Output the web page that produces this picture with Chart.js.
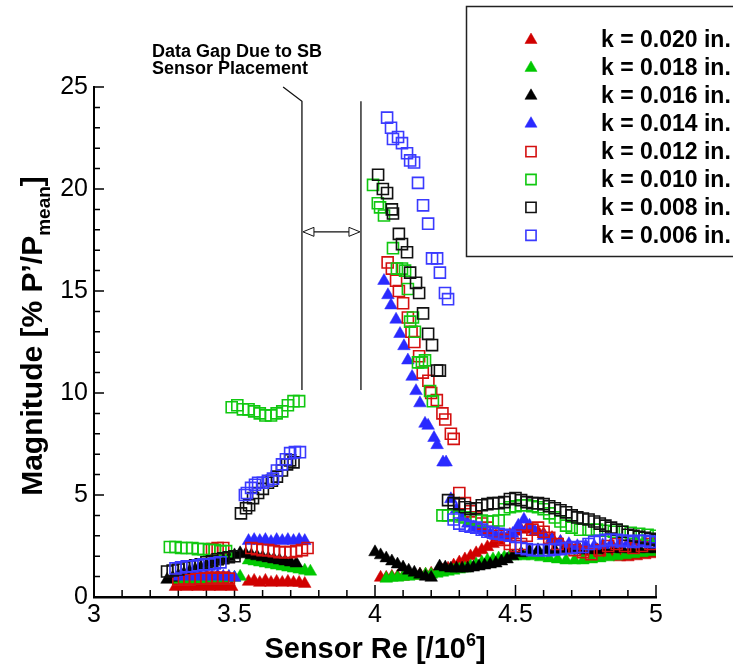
<!DOCTYPE html>
<html>
<head>
<meta charset="utf-8">
<script src="https://cdn.jsdelivr.net/npm/chart.js@4.4.1/dist/chart.umd.min.js"></script>
<style>
  html, body { margin: 0; padding: 0; background: #fff; }
  #wrap { width: 733px; height: 666px; }
</style>
</head>
<body>
<div id="wrap"><canvas id="chart" width="733" height="666"></canvas></div>
<script>
// Sensor Re [/10^6] vs magnitude [% P'/Pmean], one pair of arrays per roughness height k
const reK020 = [3.29,3.31,3.33,3.35,3.37,3.39,3.41,3.43,3.45,3.47,3.49,
    3.55,3.57,3.59,3.61,3.63,3.65,3.67,3.69,3.71,3.73,3.75,
    4.02,4.04,4.06,4.08,4.10,4.12,4.14,4.16,4.18,4.20,4.22,4.24,4.26,4.28,4.30,4.32,4.34,4.36,4.38,4.40,
    4.42,4.44,4.46,4.48,4.50,4.52,4.54,4.56,4.58,4.60,4.63,4.66,4.69,4.72,4.75,4.78,4.81,4.84,4.87,4.90,4.93,4.96,4.99];
const magK020 = [0.5,0.55,0.5,0.55,0.5,0.55,0.5,0.55,0.5,0.55,0.5,
    0.75,0.8,0.7,0.8,0.7,0.75,0.7,0.75,0.7,0.7,0.65,
    0.95,0.95,1.0,1.0,1.0,1.05,1.05,1.1,1.1,1.15,1.2,1.3,1.4,1.55,1.7,1.85,2.0,2.15,2.3,2.45,
    2.6,2.75,2.9,3.05,3.2,3.3,3.35,3.3,3.2,3.1,2.9,2.7,2.5,2.3,2.2,2.1,2.0,2.0,1.95,1.95,2.0,2.05,2.1];

const reK018 = [3.30,3.32,3.34,3.36,3.38,3.40,3.42,3.44,3.46,3.48,3.50,3.52,
    3.55,3.57,3.59,3.61,3.63,3.65,3.67,3.69,3.71,3.73,3.75,3.77,
    4.04,4.06,4.08,4.10,4.12,4.14,4.16,4.18,4.20,4.22,4.24,4.26,4.28,4.30,4.32,4.34,4.36,4.38,4.40,4.42,4.44,4.46,4.48,4.50,
    4.53,4.56,4.59,4.62,4.65,4.68,4.71,4.74,4.77,4.80,4.83,4.86,4.89,4.92,4.95,4.98];
const magK018 = [0.85,0.9,0.85,0.9,0.85,0.9,0.85,0.9,0.9,0.95,0.95,1.0,
    1.8,1.75,1.7,1.65,1.6,1.55,1.5,1.45,1.4,1.35,1.3,1.25,
    0.9,0.95,0.95,1.0,1.0,1.05,1.05,1.1,1.1,1.15,1.2,1.25,1.3,1.35,1.4,1.5,1.6,1.7,1.8,1.85,1.9,1.95,2.0,2.0,
    2.0,2.0,1.95,1.9,1.85,1.8,1.8,1.8,1.85,1.9,1.95,2.0,2.05,2.1,2.15,2.2];

const reK016 = [3.26,3.28,3.30,3.32,3.34,3.36,3.38,3.40,3.42,3.44,3.46,3.48,3.50,
    3.52,3.54,3.56,3.58,3.60,3.62,3.64,3.66,3.68,3.70,3.72,
    4.00,4.02,4.04,4.06,4.08,4.10,4.12,4.14,4.16,4.18,4.20,
    4.23,4.25,4.27,4.29,4.31,4.33,4.35,4.37,4.39,4.41,4.43,4.45,4.47,
    4.49,4.52,4.55,4.58,4.61,4.64,4.67,4.70,4.73,4.76,4.79,4.82,4.85,4.88,4.91,4.94,4.97,5.00];
const magK016 = [0.85,0.95,1.05,1.15,1.25,1.35,1.45,1.55,1.65,1.75,1.85,1.95,2.05,
    2.15,2.1,2.05,2.0,1.95,1.9,1.85,1.8,1.75,1.7,1.65,
    2.2,2.05,1.9,1.75,1.6,1.45,1.3,1.2,1.1,1.0,0.95,
    1.5,1.45,1.4,1.4,1.4,1.4,1.45,1.5,1.55,1.6,1.65,1.75,1.85,
    2.0,2.15,2.25,2.3,2.3,2.3,2.3,2.3,2.3,2.3,2.3,2.35,2.35,2.35,2.35,2.35,2.35,2.35];

const reK014 = [3.30,3.32,3.34,3.36,3.38,3.40,3.42,3.44,3.46,3.48,3.50,
    3.55,3.57,3.59,3.61,3.63,3.65,3.67,3.69,3.71,3.73,3.75,
    4.032,4.046,4.057,4.075,4.089,4.103,4.117,4.132,4.146,4.160,4.178,4.189,4.210,4.221,4.242,4.253,
    4.27,4.29,4.31,4.33,4.35,4.37,4.39,4.41,4.43,4.45,4.47,4.49,4.51,4.53,4.55,4.57,
    4.60,4.63,4.66,4.69,4.72,4.75,4.78,4.81,4.84,4.87,4.90,4.93,4.96,4.99];
const magK014 = [1.0,1.05,1.0,1.05,1.0,1.05,1.0,1.05,1.0,1.0,0.95,
    2.75,2.8,2.75,2.8,2.7,2.8,2.75,2.8,2.75,2.8,2.75,
    15.5,14.8,14.3,13.6,12.9,12.3,11.6,10.8,10.1,9.5,8.5,8.4,7.8,7.45,6.6,6.6,
    4.8,4.3,3.9,3.6,3.4,3.3,3.2,3.1,3.0,2.95,2.9,3.1,3.5,3.8,3.5,3.2,
    3.0,2.8,2.7,2.6,2.5,2.5,2.5,2.55,2.6,2.6,2.65,2.7,2.7,2.75];

const reK012 = [3.30,3.32,3.34,3.36,3.38,3.40,3.42,3.44,3.46,3.48,3.42,3.44,3.46,
    3.56,3.58,3.60,3.62,3.64,3.66,3.68,3.70,3.72,3.74,3.76,
    4.045,4.06,4.075,4.085,4.10,4.117,4.13,4.14,4.157,4.17,4.19,4.20,4.22,4.24,4.25,4.27,4.28,
    4.30,4.32,4.34,4.36,4.38,4.40,4.42,4.44,4.46,4.48,4.50,4.52,4.54,4.56,4.58,4.60,4.62,
    4.65,4.68,4.71,4.74,4.77,4.80,4.83,4.86,4.89,4.92,4.95,4.98];
const magK012 = [0.85,0.9,0.85,0.9,0.9,0.9,0.95,0.9,0.95,0.9,2.35,2.4,2.4,
    2.4,2.35,2.3,2.3,2.25,2.2,2.2,2.2,2.25,2.3,2.4,
    16.4,16.1,15.5,15.0,14.4,13.7,13.0,12.5,11.8,11.0,10.6,10.0,9.65,9.0,8.7,8.0,7.75,
    5.1,4.6,4.2,3.9,3.6,3.4,3.2,3.0,2.8,2.6,2.5,2.6,3.0,3.3,3.4,3.2,2.9,
    2.6,2.4,2.3,2.2,2.1,2.3,2.5,2.6,2.5,2.4,2.5,2.6];

const reK010 = [3.27,3.29,3.31,3.33,3.35,3.37,3.39,3.41,3.43,3.45,3.47,
    3.49,3.51,3.53,3.55,3.57,3.59,3.61,3.63,3.65,3.67,3.69,3.71,3.73,
    3.993,4.01,4.018,4.032,4.064,4.078,4.096,4.107,4.117,4.125,4.135,4.142,4.153,4.167,4.178,4.196,4.206,
    4.24,4.26,4.28,4.30,4.32,4.34,4.36,4.38,4.40,4.42,4.44,4.46,4.48,4.50,4.52,4.54,4.56,4.58,4.60,4.62,4.64,4.66,4.68,4.70,
    4.73,4.76,4.79,4.82,4.85,4.88,4.91,4.94,4.97,5.00];
const magK010 = [2.45,2.45,2.4,2.4,2.4,2.35,2.35,2.3,2.3,2.25,2.25,
    9.3,9.4,9.2,9.2,9.1,9.0,8.9,8.9,9.0,9.1,9.4,9.6,9.6,
    20.2,19.3,19.1,18.7,17.1,16.1,16.1,16.0,15.1,13.5,13.7,13.0,11.5,11.5,11.6,10.1,9.6,
    4.0,4.0,4.05,3.95,3.9,3.85,3.8,3.75,3.7,3.7,3.75,4.3,4.4,4.45,4.5,4.5,4.45,4.4,4.3,4.1,3.9,3.7,3.5,3.4,
    3.3,3.3,3.3,3.25,3.2,3.2,3.15,3.1,3.05,3.0];

const reK008 = [3.26,3.28,3.30,3.32,3.34,3.36,3.38,3.40,3.42,3.44,3.46,3.48,3.50,
    3.523,3.541,3.552,3.566,3.584,3.601,3.619,3.633,3.651,3.669,3.687,3.698,3.71,
    4.011,4.028,4.043,4.06,4.064,4.085,4.096,4.114,4.125,4.146,4.157,4.171,4.189,4.203,4.221,4.231,
    4.26,4.28,4.30,4.32,4.34,4.36,4.38,4.40,4.42,4.44,4.46,4.48,4.50,4.52,4.54,4.56,4.58,4.60,4.62,
    4.64,4.66,4.68,4.70,4.72,4.74,4.76,4.78,4.80,4.82,4.84,4.86,4.88,4.90,4.92,4.94,4.96,4.98,5.00];
const magK008 = [1.25,1.3,1.35,1.45,1.5,1.55,1.6,1.7,1.75,1.85,1.9,1.95,2.0,
    4.1,4.35,4.5,4.85,5.1,5.3,5.6,5.7,5.9,6.2,6.5,6.7,6.6,
    20.7,20.0,19.8,19.0,18.8,17.8,17.3,16.9,15.9,15.4,14.9,13.9,12.9,12.35,11.1,11.1,
    4.75,4.6,4.55,4.4,4.3,4.35,4.5,4.55,4.6,4.6,4.65,4.8,4.85,4.75,4.65,4.6,4.6,4.55,4.45,
    4.35,4.25,4.15,4.0,3.9,3.85,3.8,3.7,3.6,3.5,3.4,3.3,3.2,3.05,3.0,2.95,2.9,2.85,2.8];

const reK006 = [3.29,3.31,3.33,3.35,3.37,3.39,3.41,3.43,3.45,
    3.537,3.544,3.559,3.573,3.584,3.601,3.619,3.637,3.651,3.669,3.683,3.698,3.715,3.733,
    4.043,4.057,4.064,4.082,4.096,4.114,4.125,4.139,4.153,4.171,4.189,4.203,4.221,4.231,4.249,4.26,
    4.28,4.30,4.32,4.34,4.36,4.38,4.40,4.42,4.44,4.46,4.48,4.50,4.52,4.54,4.56,4.58,4.60,4.62,
    4.64,4.66,4.68,4.70,4.72,4.74,4.76,4.78,4.80,4.82,4.84,4.86,4.88,4.90,4.92,4.94,4.96,4.98,5.00];
const magK006 = [1.4,1.45,1.5,1.5,1.55,1.6,1.6,1.65,1.7,
    5.0,5.1,5.35,5.5,5.6,5.6,5.7,5.8,6.2,6.5,6.75,7.05,7.1,7.1,
    23.5,23.0,22.45,22.55,22.25,21.75,21.4,21.3,20.3,19.2,18.3,16.6,16.6,15.9,14.9,14.6,
    3.8,3.6,3.5,3.45,3.4,3.3,3.2,3.15,3.1,3.05,3.0,2.95,2.4,2.35,2.3,2.3,2.3,2.3,
    2.35,2.35,2.4,2.4,2.45,2.45,2.6,2.7,2.75,2.8,2.8,2.8,2.75,2.75,2.7,2.75,2.75,2.7,2.7];

const seriesLabels = ['k = 0.020 in.', 'k = 0.018 in.', 'k = 0.016 in.', 'k = 0.014 in.',
    'k = 0.012 in.', 'k = 0.010 in.', 'k = 0.008 in.', 'k = 0.006 in.'];
const reSeries = [reK020, reK018, reK016, reK014, reK012, reK010, reK008, reK006];
const magSeries = [magK020, magK018, magK016, magK014, magK012, magK010, magK008, magK006];
const seriesColors = ['#d00000', '#00c800', '#000000', '#2a2aff', '#d41010', '#10c810', '#111111', '#3a3aff'];
const seriesFilled = [true, true, true, true, false, false, false, false];

const xTickValues = [3, 3.5, 4, 4.5, 5];
const yTickValues = [0, 5, 10, 15, 20, 25];

// region without sensor data (annotation)
const gapLeft = 3.74;
const gapRight = 3.95;

const FONT = '"Liberation Sans", Arial, Helvetica, sans-serif';

const datasets = seriesLabels.map((label, i) => ({
    label,
    data: reSeries[i].map((x, j) => ({ x, y: magSeries[i][j] })),
    showLine: false,
    pointStyle: seriesFilled[i] ? 'triangle' : 'rect',
    pointRadius: seriesFilled[i] ? 7.3 : 7.8,
    pointHoverRadius: seriesFilled[i] ? 7.3 : 7.8,
    backgroundColor: seriesFilled[i] ? seriesColors[i] : 'rgba(0,0,0,0)',
    borderColor: seriesColors[i],
    borderWidth: seriesFilled[i] ? 0.5 : 1.6,
    order: 8 - i
}));

// inward minor/major ticks like the original plot
const axisTicks = {
    id: 'axisTicks',
    beforeDatasetsDraw(chart) {
        const { ctx, chartArea: a, scales: { x, y } } = chart;
        ctx.save();
        ctx.strokeStyle = '#000';
        ctx.lineWidth = 1.5;
        ctx.beginPath();
        for (let i = 0; i <= 20; i++) {
            const px = x.getPixelForValue(3 + i * 0.1);
            const len = i % 5 === 0 ? 12 : 7;
            ctx.moveTo(px, a.bottom);
            ctx.lineTo(px, a.bottom - len);
        }
        for (let v = 0; v <= 25; v++) {
            const py = y.getPixelForValue(v);
            const len = v % 5 === 0 ? 10 : 6;
            ctx.moveTo(a.left, py);
            ctx.lineTo(a.left + len, py);
        }
        ctx.stroke();
        ctx.restore();
    }
};

function arrowHead(ctx, tipX, tipY, dir) {
    ctx.beginPath();
    ctx.moveTo(tipX, tipY);
    ctx.lineTo(tipX + dir * 11, tipY - 4.5);
    ctx.lineTo(tipX + dir * 11, tipY + 4.5);
    ctx.closePath();
    ctx.fillStyle = '#fff';
    ctx.fill();
    ctx.stroke();
}

const gapNote = {
    id: 'gapNote',
    afterDatasetsDraw(chart) {
        const { ctx, scales: { x, y } } = chart;
        const xl = x.getPixelForValue(gapLeft);
        const xr = x.getPixelForValue(gapRight);
        const yTop = y.getPixelForValue(24.3);
        const yBot = y.getPixelForValue(10.15);
        const yArr = y.getPixelForValue(17.9);
        ctx.save();
        ctx.strokeStyle = '#111';
        ctx.lineWidth = 1.3;
        ctx.beginPath();
        ctx.moveTo(x.getPixelForValue(3.673), y.getPixelForValue(25));
        ctx.lineTo(xl, yTop);
        ctx.lineTo(xl, yBot);
        ctx.moveTo(xr, yTop);
        ctx.lineTo(xr, yBot);
        ctx.moveTo(xl + 10, yArr);
        ctx.lineTo(xr - 10, yArr);
        ctx.stroke();
        ctx.lineWidth = 1;
        arrowHead(ctx, xl + 1, yArr, 1);
        arrowHead(ctx, xr - 1, yArr, -1);
        ctx.fillStyle = '#000';
        ctx.font = 'bold 18px ' + FONT;
        ctx.textAlign = 'left';
        ctx.textBaseline = 'alphabetic';
        ctx.fillText('Data Gap Due to SB', 152, 57);
        ctx.fillText('Sensor Placement', 152, 74);
        ctx.restore();
    }
};

const legendBox = {
    id: 'legendBox',
    afterDraw(chart) {
        const ctx = chart.ctx;
        ctx.save();
        ctx.fillStyle = '#fff';
        ctx.fillRect(467, 7, 280, 250);
        ctx.strokeStyle = '#222';
        ctx.lineWidth = 1.5;
        ctx.strokeRect(466.5, 6.5, 280, 250);
        ctx.font = 'bold 23px ' + FONT;
        ctx.textBaseline = 'middle';
        ctx.textAlign = 'left';
        chart.data.datasets.forEach((ds, i) => {
            const cy = 40 + i * 27.9;
            ctx.fillStyle = ds.backgroundColor;
            ctx.strokeStyle = ds.borderColor;
            ctx.lineWidth = ds.borderWidth;
            Chart.helpers.drawPoint(ctx, {
                pointStyle: ds.pointStyle,
                radius: ds.pointStyle === 'rect' ? 7.2 : 7,
                rotation: 0,
                borderWidth: ds.borderWidth
            }, 531, cy);
            ctx.fillStyle = '#000';
            ctx.fillText(ds.label, 601, cy + 1);
        });
        ctx.restore();
    }
};

// axis titles with sub/superscripts
const axisTitles = {
    id: 'axisTitles',
    afterDraw(chart) {
        const { ctx, chartArea: a } = chart;
        ctx.save();
        ctx.fillStyle = '#000';
        ctx.textBaseline = 'alphabetic';
        ctx.textAlign = 'left';

        // x title
        const xBig = 'bold 29px ' + FONT;
        const xSmall = 'bold 18px ' + FONT;
        const xParts = [['Sensor Re [/10', xBig, 0], ['6', xSmall, -12], [']', xBig, 0]];
        let total = 0;
        xParts.forEach(p => { ctx.font = p[1]; total += ctx.measureText(p[0]).width; });
        let cx = (a.left + a.right) / 2 - total / 2;
        xParts.forEach(p => {
            ctx.font = p[1];
            ctx.fillText(p[0], cx, 658 + p[2]);
            cx += ctx.measureText(p[0]).width;
        });

        // y title
        const yBig = 'bold 30px ' + FONT;
        const ySmall = 'bold 19px ' + FONT;
        const yParts = [['Magnitude [% P\u2019/P', yBig, 0], ['mean', ySmall, 8], [']', yBig, 0]];
        total = 0;
        yParts.forEach(p => { ctx.font = p[1]; total += ctx.measureText(p[0]).width; });
        ctx.translate(42, 336);
        ctx.rotate(-Math.PI / 2);
        let cy = -total / 2;
        yParts.forEach(p => {
            ctx.font = p[1];
            ctx.fillText(p[0], cy, p[2]);
            cy += ctx.measureText(p[0]).width;
        });
        ctx.restore();
    }
};

new Chart(document.getElementById('chart'), {
    type: 'scatter',
    data: { datasets },
    options: {
        responsive: false,
        animation: false,
        events: [],
        layout: { padding: { top: 87, right: 77, left: 0, bottom: 0 } },
        plugins: {
            legend: { display: false },
            tooltip: { enabled: false }
        },
        scales: {
            x: {
                type: 'linear',
                min: 3,
                max: 5,
                afterFit: s => { s.height = 69; },
                afterBuildTicks: s => { s.ticks = xTickValues.map(v => ({ value: v })); },
                ticks: {
                    color: '#000',
                    padding: 3,
                    maxRotation: 0,
                    font: { family: FONT, size: 25 },
                    callback: v => String(v)
                },
                grid: { display: false, drawTicks: false },
                border: { display: true, color: '#000', width: 2.5 }
            },
            y: {
                min: 0,
                max: 25,
                afterFit: s => { s.width = 94; },
                afterBuildTicks: s => { s.ticks = yTickValues.map(v => ({ value: v })); },
                ticks: {
                    color: '#000',
                    padding: 6,
                    font: { family: FONT, size: 25 },
                    callback: v => String(v)
                },
                grid: { display: false, drawTicks: false },
                border: { display: true, color: '#000', width: 2 }
            }
        }
    },
    plugins: [axisTicks, gapNote, legendBox, axisTitles]
});
</script>
</body>
</html>
